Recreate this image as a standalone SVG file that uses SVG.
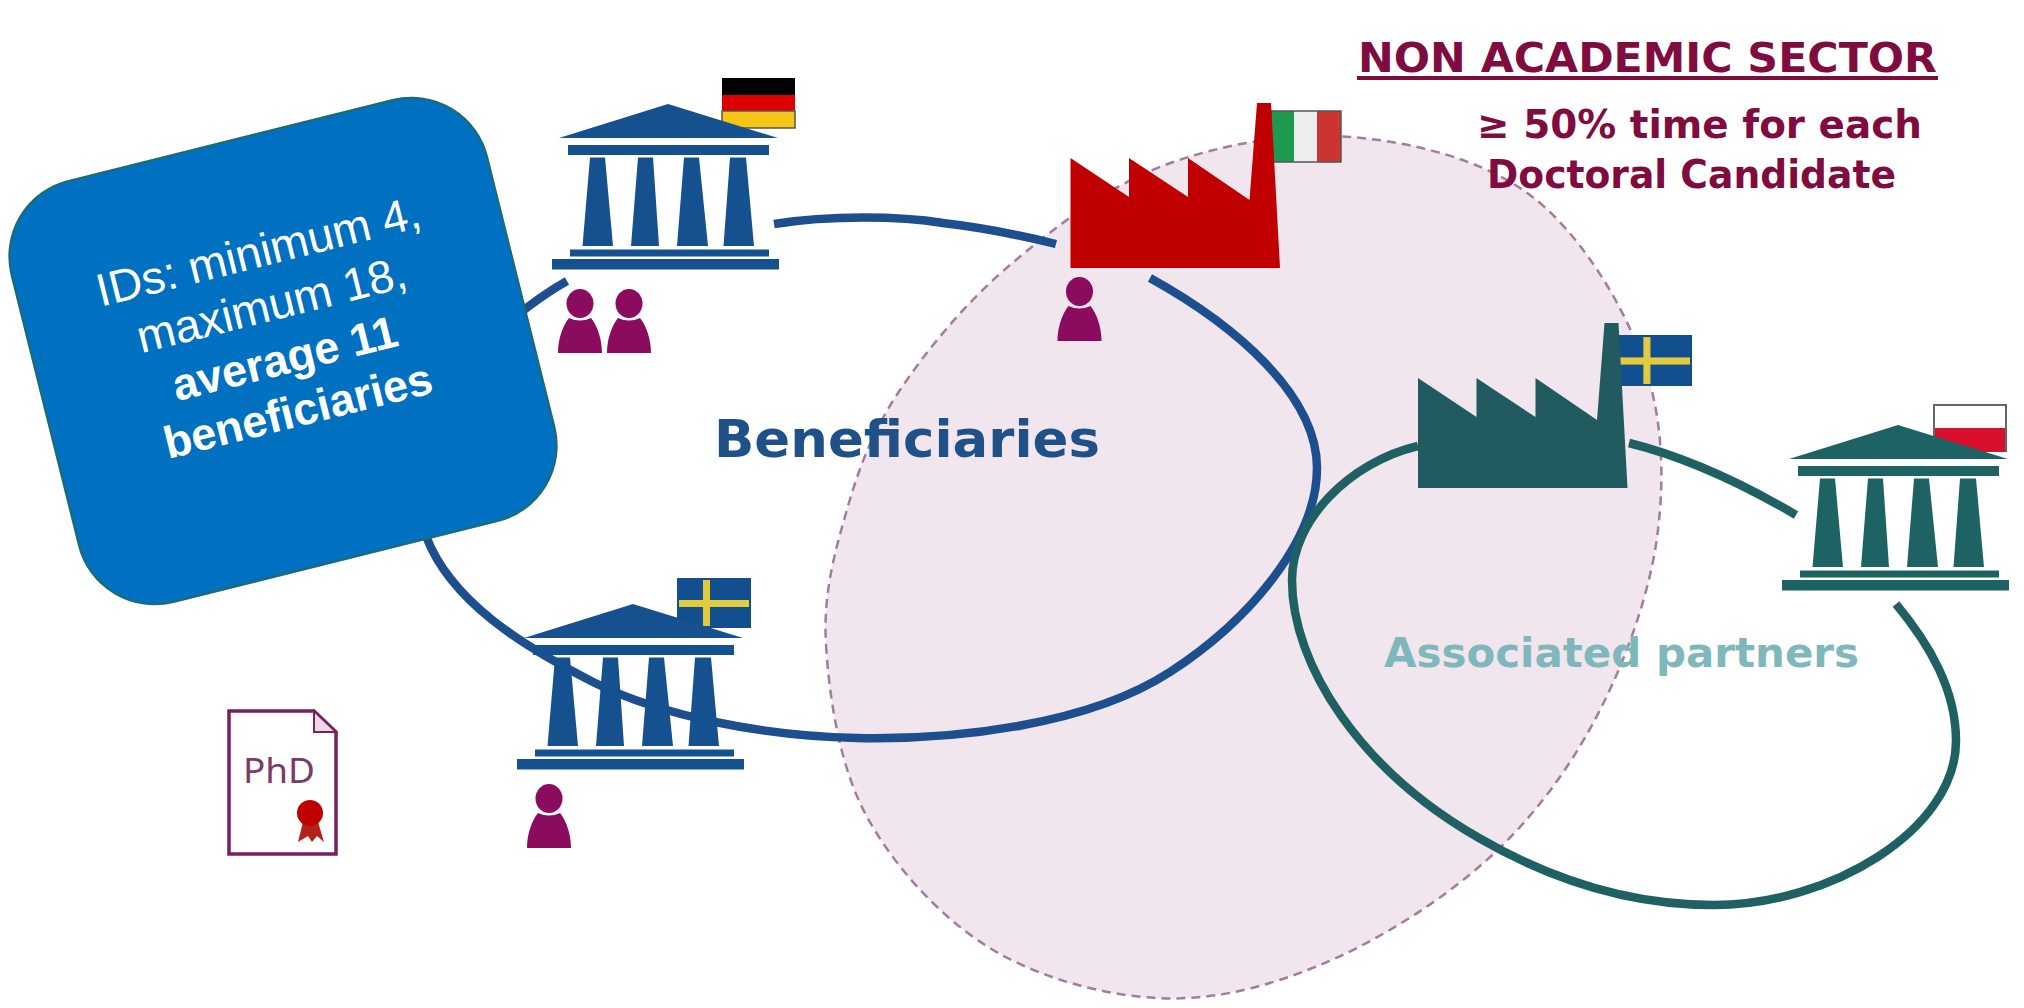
<svg xmlns="http://www.w3.org/2000/svg" xmlns:xlink="http://www.w3.org/1999/xlink" width="2024" height="1008" viewBox="0 0 2024 1008">
<style>
.v{font-family:"DejaVu Sans","Liberation Sans",sans-serif;font-weight:700}
.m{fill:#7F0B3F}
.blue{fill:none;stroke:#1D4F8F;stroke-width:8.500}
.teal{fill:none;stroke:#1F6163;stroke-width:8.500}
.call{font-family:"Liberation Sans",Arial,sans-serif;font-size:46px;fill:#fff;text-anchor:middle}
.fb{stroke:#555;stroke-width:1.500}
</style>
<defs>
<g id="building">
<path d="M668,104 L778,138 H559 Z"/>
<rect x="568" y="145" width="201" height="10"/>
<path d="M590,157.500H605L613,246H582.500Z M638,157.500H653L659,246H631Z M684,157.500H699L708,246H677Z M730,157.500H746L754,246H723.500Z"/>
<rect x="570" y="249.500" width="199" height="7"/>
<rect x="552" y="259" width="227" height="10.500"/>
</g>
<path id="factory" d="M1070.500,158 L1129,197 V158 L1188,197 V158 L1249.500,200 L1257,103 H1271 L1280,268 H1070.500 Z"/>
<g id="person" fill="#8B0B5F">
<ellipse cx="0" cy="14.500" rx="13.500" ry="14.500"/>
<path d="M-22,64 C-22,50 -17,36 -11,29 Q0,34 11,29 C17,36 22,50 22,64 Z"/>
</g>
<g id="sweden">
<rect x="0" y="0" width="74" height="50" fill="#124F8E"/>
<rect x="26" y="2" width="7" height="46" fill="#E3CB3E"/>
<rect x="2" y="22" width="70" height="7" fill="#E3CB3E"/>
</g>
</defs>
<rect width="2024" height="1008" fill="#fff"/>
<path id="sector" fill="#F1E5EE" stroke="#A27D9C" stroke-width="2.500" stroke-dasharray="9 6" d="M826,645 C829,695 839,765 866,815 C893,865 937,914 985,945 C1033,976 1100,995 1156,998 C1212,1001 1264,988 1320,965 C1376,942 1442,901 1489,858 C1536,815 1572,765 1600,710 C1628,655 1651,589 1658,530 C1665,471 1662,411 1641,355 C1620,299 1578,231 1530,195 C1482,159 1412,142 1351,137 C1290,132 1222,144 1165,165 C1108,186 1055,227 1010,265 C965,303 925,352 898,393 C871,434 858,471 846,513 C834,555 823,595 826,645 Z"/>
<g id="connectors">
<path class="blue" d="M774,224 C830,215 900,216 943,223 C985,228 1020,235 1056,244"/>
<path class="blue" d="M567,281 Q540,296 505,325"/>
<path class="blue" d="M1150,278 C1235,325 1317,395 1317,468 C1317,540 1250,620 1170,672 C1090,724 960,740 857,738 C760,736 660,715 595,683 C520,645 450,600 426,536"/>
<path class="teal" d="M1418,446 C1350,462 1292,520 1292,580 C1292,665 1360,770 1479,838 C1560,885 1640,905 1714,905 C1830,905 1956,830 1956,741 C1956,690 1930,645 1896,604"/>
<path class="teal" d="M1629,443 C1690,458 1750,488 1796,515"/>
</g>
<g id="flag-de">
<rect x="722" y="78" width="73" height="17" fill="#000"/>
<rect x="722" y="95" width="73" height="16" fill="#DD0000"/>
<rect x="722" y="111" width="73" height="17" fill="#F5C518" class="fb"/>
</g>
<g id="uni-de" fill="#15508F"><use xlink:href="#building" href="#building"/></g>
<g id="person-de-1"><use href="#person" xlink:href="#person" transform="translate(580,289)"/></g>
<g id="person-de-2"><use href="#person" xlink:href="#person" transform="translate(629,289)"/></g>
<g id="flag-it">
<rect x="1271" y="111" width="23" height="51" fill="#1E9A50"/>
<rect x="1294" y="111" width="23" height="51" fill="#EDEDED"/>
<rect x="1317" y="111" width="24" height="51" fill="#CC3333"/>
<rect x="1271" y="111" width="70" height="51" fill="none" class="fb"/>
</g>
<g id="factory-it"><use href="#factory" xlink:href="#factory" fill="#C00000"/></g>
<g id="person-it"><use href="#person" xlink:href="#person" transform="translate(1079.500,277)"/></g>
<g id="flag-se-top"><use href="#sweden" xlink:href="#sweden" transform="translate(1617,335) scale(1.014,1.02)"/></g>
<g id="factory-se"><use href="#factory" xlink:href="#factory" fill="#225B5F" transform="translate(347.500,220)"/></g>
<g id="flag-pl">
<rect x="1934" y="405" width="72" height="23" fill="#fff"/>
<rect x="1934" y="428" width="72" height="24" fill="#D8102C"/>
<path d="M1934,452V405H2006V452" fill="none" stroke="#666" stroke-width="2"/>
</g>
<g id="uni-pl" fill="#1E6363"><use href="#building" xlink:href="#building" transform="translate(1230,321)"/></g>
<g id="flag-se-low"><use href="#sweden" xlink:href="#sweden" transform="translate(677,578)"/></g>
<g id="uni-se" fill="#15508F"><use href="#building" xlink:href="#building" transform="translate(-35,500)"/></g>
<g id="person-se"><use href="#person" xlink:href="#person" transform="translate(549,784)"/></g>
<g id="phd">
<path d="M229,711 H314 L336,732 V854 H229 Z" fill="#fff" stroke="#7A1F5E" stroke-width="3.500"/>
<path d="M314,711 V732 H336 Z" fill="#EBD9E8" stroke="#7A1F5E" stroke-width="2"/>
<text x="243" y="783" font-family="'Noto Sans',sans-serif" font-size="35" fill="#7A3A6A" textLength="72" lengthAdjust="spacingAndGlyphs">PhD</text>
<path d="M303,822 L298,842 L308,836 L312,842 L317,836 L324,842 L318,822 Z" fill="#B5201A"/>
<circle cx="310" cy="813" r="13" fill="#C00000"/>
</g>
<text class="v" x="714" y="457" font-size="52" fill="#1F5088" textLength="386" lengthAdjust="spacingAndGlyphs">Beneficiaries</text>
<text class="v" x="1384" y="667" font-size="41" fill="#7FB8BA" textLength="475" lengthAdjust="spacingAndGlyphs">Associated partners</text>
<g id="non-academic">
<text class="v m" x="1358" y="72" font-size="40" textLength="579" lengthAdjust="spacingAndGlyphs">NON ACADEMIC SECTOR</text>
<rect x="1357" y="76" width="581" height="4" fill="#7F0B3F"/>
<text class="v m" x="1477" y="138" font-size="39" textLength="445" lengthAdjust="spacingAndGlyphs">≥ 50% time for each</text>
<text class="v m" x="1487" y="188" font-size="39" textLength="409" lengthAdjust="spacingAndGlyphs">Doctoral Candidate</text>
</g>
<g id="callout" transform="rotate(-14 283 351)">
<rect x="38" y="134" width="490" height="434" rx="78" ry="78" fill="#0070C0" stroke="#1F6B66" stroke-width="2"/>
<text class="call" x="283" y="264">IDs: minimum 4,</text>
<text class="call" x="283" y="319">maximum 18,</text>
<text class="call" x="283" y="374" font-weight="700" style="font-size:45px">average 11</text>
<text class="call" x="283" y="428" font-weight="700" style="font-size:45px">beneficiaries</text>
</g>
</svg>
